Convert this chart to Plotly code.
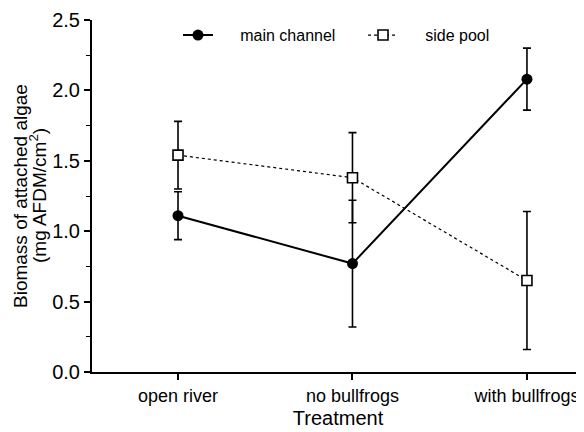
import plotly.graph_objects as go

treatments = ["open river", "no bullfrogs", "with bullfrogs"]
main_channel = [1.11, 0.77, 2.08]
main_channel_err = [0.17, 0.45, 0.22]
side_pool = [1.54, 1.38, 0.65]
side_pool_err = [0.24, 0.32, 0.49]
y_ticks = [0.0, 0.5, 1.0, 1.5, 2.0, 2.5]
y_minor = [0.25, 0.75, 1.25, 1.75, 2.25]
y_title_lines = ["Biomass of attached algae", "(mg AFDM/cm<sup>2</sup>)"]

xpos = list(range(len(treatments)))
FONT = "Liberation Sans, Arial, Helvetica, sans-serif"
PAD = "\u00a0" * 5

# the page body adds an 8px offset; figure is sized to fit inside the window
W, H = 576, 424
ML, MR, MT, MB = 84, 0, 12, 60
PW = W - ML - MR


def px_to_paper_x(px):
    return (px - ML) / PW


fig = go.Figure()
fig.add_trace(go.Scatter(
    x=xpos, y=main_channel, name=PAD + "main channel", mode="lines+markers",
    line=dict(color="black", width=2),
    marker=dict(symbol="circle", size=11, color="black"),
    error_y=dict(type="data", array=main_channel_err, color="black", thickness=1.6, width=4),
    legend="legend",
))
fig.add_trace(go.Scatter(
    x=xpos, y=side_pool, name=PAD + "side pool", mode="lines+markers",
    line=dict(color="black", width=1.2, dash="dot"),
    marker=dict(symbol="square", size=10, color="white", line=dict(color="black", width=1.6)),
    error_y=dict(type="data", array=side_pool_err, color="black", thickness=1.6, width=4),
    legend="legend2",
))

legend_common = dict(orientation="h", yanchor="middle", xanchor="left", y=0.957,
                     font=dict(size=16), bgcolor="rgba(0,0,0,0)", borderwidth=0)
fig.update_layout(
    width=W, height=H,
    margin=dict(l=ML, r=MR, t=MT, b=MB),
    paper_bgcolor="white", plot_bgcolor="white",
    font=dict(family=FONT, size=18, color="black"),
    showlegend=True,
    legend=dict(x=px_to_paper_x(170), **legend_common),
    legend2=dict(x=px_to_paper_x(355), **legend_common),
)

fig.add_annotation(text=y_title_lines[0], xref="paper", yref="paper",
                   x=px_to_paper_x(12), y=0.5, xanchor="center", yanchor="middle",
                   textangle=-90, showarrow=False, font=dict(size=19))
fig.add_annotation(text=y_title_lines[1], xref="paper", yref="paper",
                   x=px_to_paper_x(30), y=0.5, xanchor="center", yanchor="middle",
                   textangle=-90, showarrow=False, font=dict(size=19))

fig.update_xaxes(
    range=[-0.493, 2.327], tickvals=xpos, ticktext=treatments, automargin=False,
    showline=True, linecolor="black", linewidth=2, showgrid=False, zeroline=False,
    ticks="outside", ticklen=6, tickwidth=1.5, tickcolor="black",
    tickfont=dict(size=18),
    title=dict(text="Treatment", font=dict(size=20), standoff=6),
)
fig.update_yaxes(
    range=[0, 2.5], tickvals=y_ticks, ticktext=[f"{v:.1f}" for v in y_ticks], automargin=False,
    showline=True, linecolor="black", linewidth=2, showgrid=False, zeroline=False,
    ticks="outside", ticklen=6, tickwidth=1.5, tickcolor="black",
    tickfont=dict(size=20),
    minor=dict(tickvals=y_minor, ticks="outside", ticklen=4, tickwidth=1, tickcolor="black"),
)

fig.write_html("out.html")
